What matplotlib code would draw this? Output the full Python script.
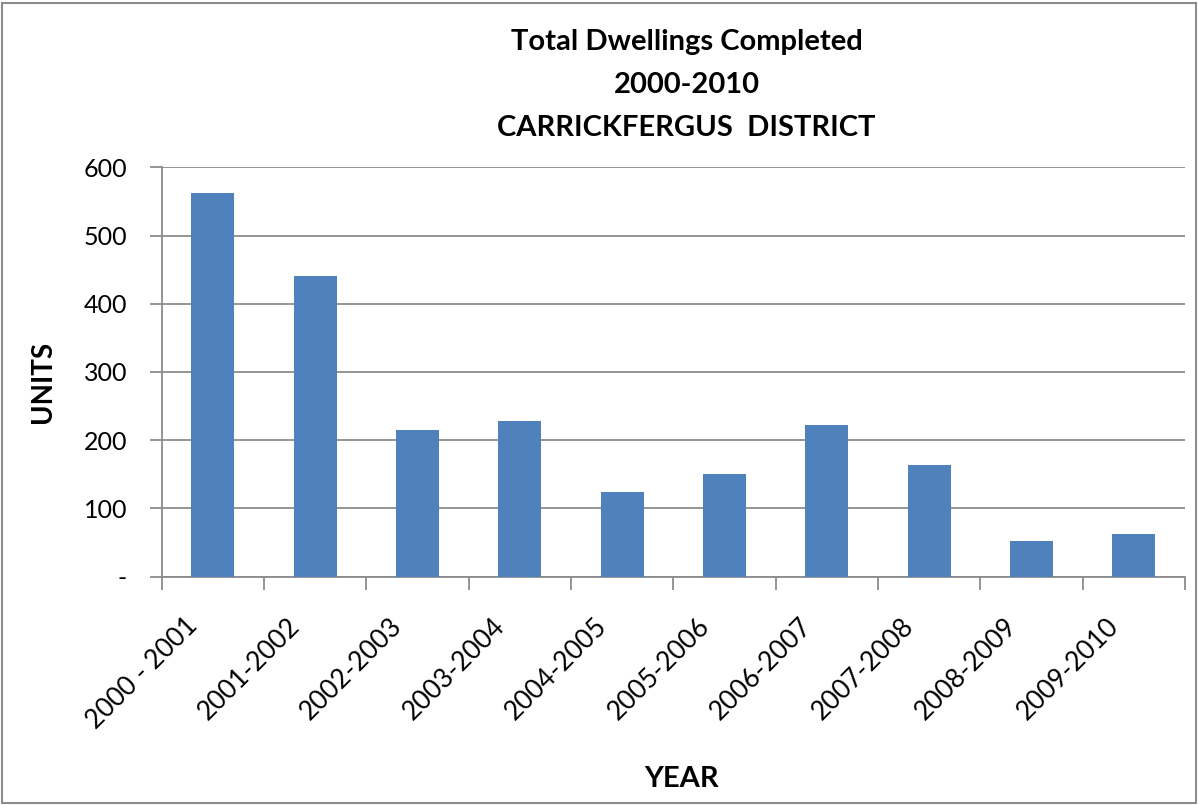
import matplotlib
matplotlib.use('Agg')
import matplotlib.pyplot as plt
import numpy as np

years = ['2000 - 2001', '2001-2002', '2002-2003', '2003-2004', '2004-2005',
         '2005-2006', '2006-2007', '2007-2008', '2008-2009', '2009-2010']
units = [563, 441, 215, 228, 124, 151, 222, 164, 52, 63]
yticks = [0, 100, 200, 300, 400, 500, 600]
ytick_labels = ['-', '100', '200', '300', '400', '500', '600']

plt.rcParams['font.family'] = ['Lato', 'DejaVu Sans']
grey = '#8c8c8c'

fig = plt.figure(figsize=(11.98, 8.05), dpi=100)
ax = fig.add_axes([0.135, 0.2836, 0.854, 0.5086])

x = np.arange(len(years))
ax.bar(x, units, width=0.42, color='#4F81BD', zorder=3)

ax.set_xlim(-0.5, len(years) - 0.5)
ax.set_ylim(0, 600)
ax.set_yticks(yticks)
ax.set_yticklabels(ytick_labels, fontsize=18)
ax.yaxis.grid(True, color=grey, linewidth=1.3, zorder=0)

# tick marks at category boundaries, labels just left of centres
ax.set_xticks(np.arange(len(years) + 1) - 0.5)
ax.set_xticklabels([])
ax.set_xticks(x - 0.1, minor=True)
ax.set_xticklabels(years, minor=True, rotation=45, ha='right', va='bottom',
                   rotation_mode='anchor', fontsize=19)
ax.tick_params(axis='x', which='major', length=9, width=1.3, color=grey)
ax.tick_params(axis='x', which='minor', length=0, pad=39)
ax.tick_params(axis='y', length=9, width=1.3, color=grey, pad=16)

for side in ['top', 'right']:
    ax.spines[side].set_visible(False)
for side in ['left', 'bottom']:
    ax.spines[side].set_color(grey)
    ax.spines[side].set_linewidth(1.3)

ax.set_ylabel('UNITS', fontsize=20, fontweight='bold')
ax.yaxis.set_label_coords(-0.103, 0.476)
ax.set_xlabel('YEAR', fontsize=21, fontweight='bold')
ax.xaxis.set_label_coords(0.5076, -0.462)

for ty, line in zip([0.948, 0.895, 0.841],
                    ['Total Dwellings Completed', '2000-2010',
                     'CARRICKFERGUS  DISTRICT']):
    fig.text(0.573, ty, line, ha='center', va='center',
             fontsize=21, fontweight='bold')

# outer chart border
fig.patches.append(plt.Rectangle((0.002, 0.002), 0.996, 0.994, fill=False,
                                 edgecolor=grey, linewidth=1.5,
                                 transform=fig.transFigure, figure=fig))

fig.savefig('out.png', dpi=100)
